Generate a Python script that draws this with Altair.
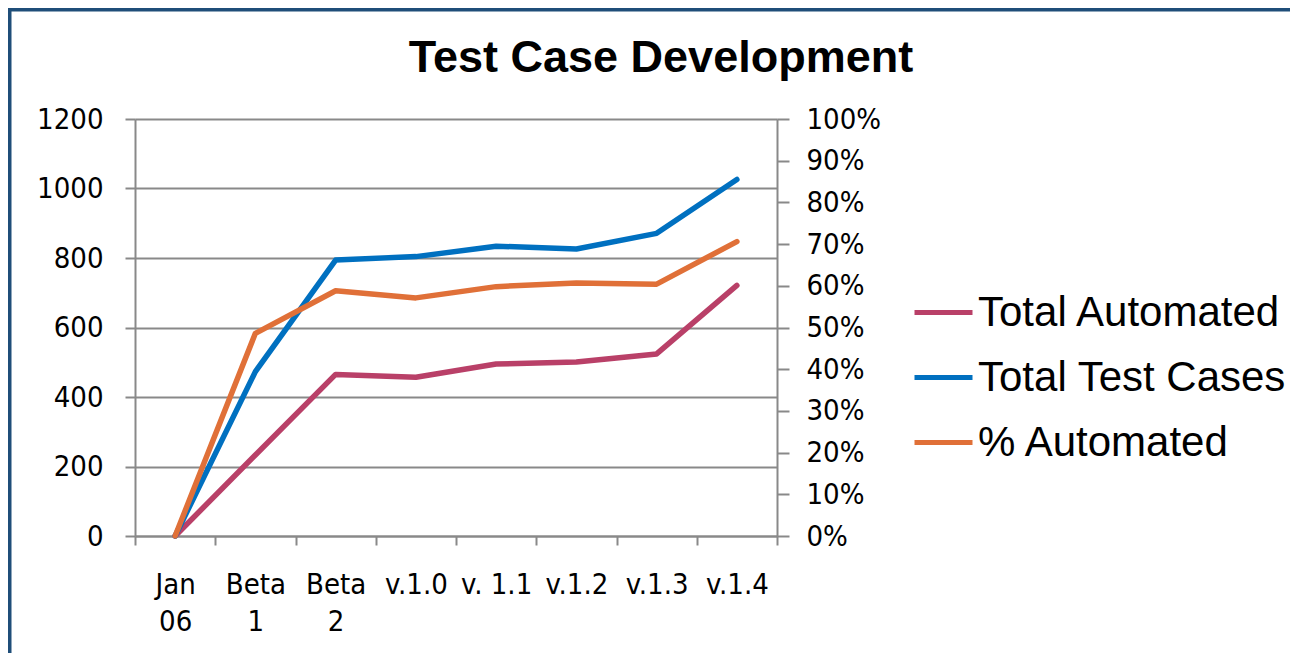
import altair as alt
import pandas as pd

title_text = "Test Case Development"
categories = ["Jan 06", "Beta 1", "Beta 2", "v.1.0", "v. 1.1", "v.1.2", "v.1.3", "v.1.4"]
total_automated = [0, 233, 465, 457, 495, 501, 524, 721]
total_test_cases = [0, 473, 794, 804, 834, 826, 871, 1026]
pct_automated = [0.0, 0.486, 0.588, 0.571, 0.598, 0.607, 0.604, 0.706]

series_names = ["Total Automated", "Total Test Cases", "% Automated"]
series_colors = ["#B94068", "#0070C0", "#E07038"]

W, H = 642, 417
PAD_L, PAD_T, PAD_R, PAD_B = 127, 111, 513, 117

rows = []
for i, c in enumerate(categories):
    rows.append({"cat": c, "order": i, "series": "Total Automated", "value": total_automated[i]})
    rows.append({"cat": c, "order": i, "series": "Total Test Cases", "value": total_test_cases[i]})
left_df = pd.DataFrame(rows)
right_df = pd.DataFrame({"cat": categories, "order": list(range(len(categories))),
                         "series": "% Automated", "value": pct_automated})

AXIS_FONT = "DejaVu Sans Condensed, DejaVu Sans, sans-serif"
GRAY = "#898989"
LABEL_SIZE = 29
LINE_W = 5.5

xenc = alt.X("cat:N", sort=categories, title=None, bandPosition=0.5,
             scale=alt.Scale(type="band", paddingInner=0, paddingOuter=0),
             axis=alt.Axis(tickBand="extent", labelAngle=0, labelFont=AXIS_FONT,
                           labelFontSize=LABEL_SIZE, labelColor="black", labelPadding=25,
                           labelLineHeight=37, labelBaseline="top",
                           labelExpr="indexof(datum.label, 'v.') == 0 ? datum.label : split(datum.label, ' ')",
                           tickSize=9, tickWidth=2, tickColor=GRAY, domainColor=GRAY,
                           domainWidth=2, grid=False))

color = alt.Color("series:N", sort=series_names,
                  scale=alt.Scale(domain=series_names, range=series_colors),
                  legend=alt.Legend(title=None, orient="none", legendX=777, legendY=162,
                                    symbolType="stroke", symbolStrokeWidth=5, symbolSize=3364,
                                    labelFont="Liberation Sans", labelFontSize=42,
                                    labelColor="black", labelOffset=3, rowPadding=12,
                                    padding=0, labelLimit=500))

left = alt.Chart(left_df).mark_line(strokeWidth=LINE_W, strokeCap="round", strokeJoin="round").encode(
    x=xenc,
    y=alt.Y("value:Q", title=None,
            scale=alt.Scale(domain=[0, 1200], nice=False),
            axis=alt.Axis(values=[0, 200, 400, 600, 800, 1000, 1200], orient="left", format="d",
                          labelFont=AXIS_FONT, labelFontSize=LABEL_SIZE, labelColor="black",
                          labelPadding=22, tickSize=10, tickWidth=2, tickColor=GRAY,
                          domainColor=GRAY, domainWidth=2, grid=True, gridColor=GRAY,
                          gridWidth=2)),
    color=color,
    strokeWidth=alt.value(LINE_W),
    detail="series:N",
    order="order:Q",
)

right = alt.Chart(right_df).mark_line(strokeWidth=LINE_W, strokeCap="round", strokeJoin="round").encode(
    x=xenc,
    y=alt.Y("value:Q", title=None,
            scale=alt.Scale(domain=[0, 1], nice=False),
            axis=alt.Axis(values=[i / 10 for i in range(11)], orient="right", format=".0%",
                          labelFont=AXIS_FONT, labelFontSize=LABEL_SIZE, labelColor="black",
                          labelPadding=17, tickSize=12, tickWidth=2, tickColor=GRAY,
                          domainColor=GRAY, domainWidth=2, grid=False)),
    color=color,
    strokeWidth=alt.value(LINE_W),
    order="order:Q",
)

title_mark = alt.Chart(pd.DataFrame({"t": [title_text]})).mark_text(
    font="Liberation Sans", fontSize=45, fontWeight="bold", color="black",
    align="center", baseline="alphabetic"
).encode(text="t:N", x=alt.value(526), y=alt.value(-47))

frame_df = pd.DataFrame({"k": [0]})
frame_top = alt.Chart(frame_df).mark_rule(color="#1F4E79", strokeWidth=4).encode(
    x=alt.value(-PAD_L), x2=alt.value(W + PAD_R), y=alt.value(-PAD_T + 1.5))
frame_left = alt.Chart(frame_df).mark_rule(color="#1F4E79", strokeWidth=4).encode(
    x=alt.value(-PAD_L + 1.5), y=alt.value(-PAD_T), y2=alt.value(H + PAD_B))

chart = alt.layer(left, right, title_mark, frame_top, frame_left).resolve_scale(
    y="independent"
).properties(
    width=W, height=H,
    padding={"left": PAD_L, "top": PAD_T, "right": PAD_R, "bottom": PAD_B},
    autosize=alt.AutoSizeParams(type="none"),
).configure_view(stroke=None).configure(background="white")

chart.save("out.html", embed_options={"renderer": "svg", "actions": False})
